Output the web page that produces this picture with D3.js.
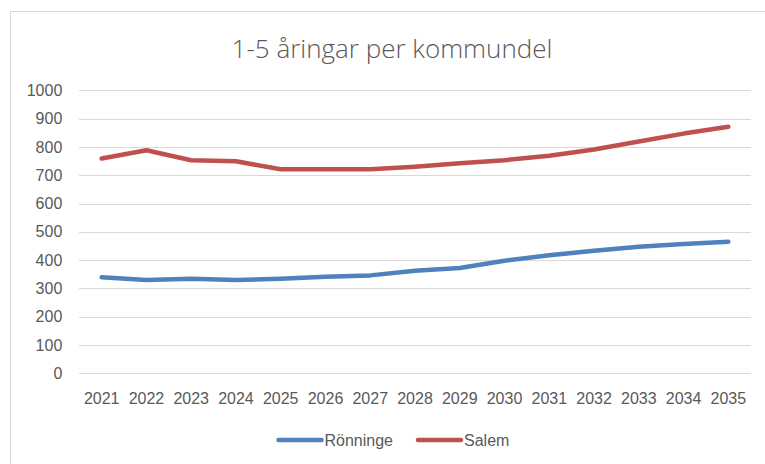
<!DOCTYPE html>
<html lang="sv">
<head>
    <meta charset="UTF-8">
    <title>1-5 åringar per kommundel</title>
    <style>
        body { margin: 0; background: #fff; }
        text { font-family: 'Liberation Sans', sans-serif; fill: #595959; }
        .tick text { font-size: 16px; }
        .tick line { stroke: #d9d9d9; }
        .domain { display: none; }
        .title { font-family: 'Open Sans', sans-serif; font-weight: 300; font-size: 26px; }
    </style>
</head>
<body>
    <svg width="765" height="464"></svg>
    <script src="https://d3js.org/d3.v7.min.js"></script>
    <script>

        // Data
        const years = ['2021', '2022', '2023', '2024', '2025', '2026', '2027', '2028',
                       '2029', '2030', '2031', '2032', '2033', '2034', '2035'];
        const ronninge = [339, 330, 334, 330, 334, 341, 346, 362, 372, 398, 417, 433, 447, 457, 465];
        const salem = [759, 788, 753, 749, 721, 721, 721, 730, 742, 753, 769, 791, 819, 847, 871];
        const yTickValues = [0, 100, 200, 300, 400, 500, 600, 700, 800, 900, 1000];

        const seriesNames = ['Rönninge', 'Salem'];
        const seriesColors = ['#4F81BD', '#C0504D'];
        const series = [ronninge, salem];

        const svg = d3.select('svg');

        // Chart area frame
        svg.append('rect')
            .attr('x', 10.5)
            .attr('y', 11.5)
            .attr('width', 800)
            .attr('height', 500)
            .attr('fill', '#fff')
            .attr('stroke', '#d9d9d9');

        const plot = { left: 79.3, right: 750.7, top: 90.3, bottom: 373.3 };

        const xScale = d3.scaleBand()
            .domain(years)
            .range([plot.left, plot.right])
            .padding(0);

        const yScale = d3.scaleLinear()
            .domain([0, 1000])
            .range([plot.bottom, plot.top]);

        const xCenter = function (d) {
            return xScale(d) + xScale.bandwidth() / 2;
        };

        // Title
        svg.append('text')
            .attr('class', 'title')
            .text('1-5 åringar per kommundel')
            .attr('x', 392)
            .attr('y', 58)
            .attr('text-anchor', 'middle');

        // y axis with gridlines
        const yAxisG = svg.append('g')
            .attr('transform', 'translate(' + plot.left + ' 0)')
            .call(d3.axisLeft(yScale)
                .tickValues(yTickValues)
                .tickSize(-(plot.right - plot.left))
                .tickPadding(17)
                .tickFormat(d3.format('d')));

        yAxisG.selectAll('.tick line')
            .attr('shape-rendering', 'crispEdges');

        // x axis labels
        const xAxisG = svg.append('g')
            .attr('transform', 'translate(0 ' + plot.bottom + ')')
            .call(d3.axisBottom(xScale).tickSize(0).tickPadding(19));

        xAxisG.selectAll('.tick line').remove();

        // Lines
        const line = d3.line()
            .x(function (d, i) { return xCenter(years[i]); })
            .y(function (d) { return yScale(d); });

        svg.selectAll('path.series')
            .data(series)
            .enter()
            .append('path')
            .attr('class', 'series')
            .attr('d', line)
            .attr('fill', 'none')
            .attr('stroke', function (d, i) { return seriesColors[i]; })
            .attr('stroke-width', 4.5)
            .attr('stroke-linecap', 'round')
            .attr('stroke-linejoin', 'round');

        // Legend
        const legendX = [278.5, 418];
        const legend = svg.selectAll('g.legend')
            .data(seriesNames)
            .enter()
            .append('g')
            .attr('class', 'legend')
            .attr('transform', function (d, i) { return 'translate(' + legendX[i] + ' 440)'; });

        legend.append('line')
            .attr('x1', 0)
            .attr('x2', 43)
            .attr('stroke', function (d, i) { return seriesColors[i]; })
            .attr('stroke-width', 4.5)
            .attr('stroke-linecap', 'round');

        legend.append('text')
            .text(function (d) { return d; })
            .attr('x', 46)
            .attr('dy', '0.35em')
            .style('font-size', '16px');

    </script>
</body>
</html>
